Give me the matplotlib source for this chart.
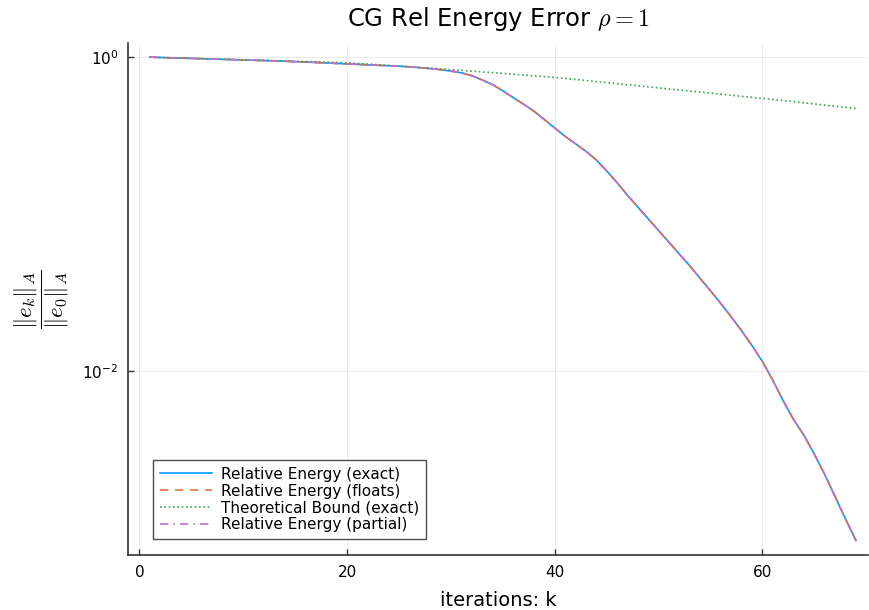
import matplotlib
matplotlib.use("Agg")
import matplotlib.pyplot as plt
import numpy as np

plt.rcParams['font.family'] = ['DejaVu Sans']
plt.rcParams['mathtext.fontset'] = 'cm'

iterations = list(range(1, 70))

rel_energy_exact = [
    1.000, 0.9954, 0.9908, 0.9863, 0.9817, 0.9772, 0.9727, 0.9683, 0.9638, 0.9594,
    0.9550, 0.9506, 0.9462, 0.9419, 0.9354, 0.9311, 0.9247, 0.9183, 0.9120, 0.9057,
    0.8995, 0.8933, 0.8872, 0.8810, 0.8750, 0.8670, 0.8570, 0.8453, 0.8318, 0.8147,
    0.7943, 0.7621, 0.7161, 0.6683, 0.6095, 0.5521, 0.5012, 0.4519, 0.3999, 0.3532,
    0.3126, 0.2805, 0.2512, 0.2213, 0.1884, 0.1585, 0.1318, 0.1109, 0.0933, 0.0785,
    0.0661, 0.0556, 0.0468, 0.0389, 0.0324, 0.0269, 0.0221, 0.0180, 0.0145, 0.0115,
    0.00871, 0.00646, 0.00490, 0.00389, 0.00295, 0.00219, 0.00158, 0.00114, 0.000832,
]
rel_energy_floats = list(rel_energy_exact)
rel_energy_partial = list(rel_energy_exact)

theoretical_bound = [
    0.9977, 0.9931, 0.9886, 0.9863, 0.9817, 0.9772, 0.9727, 0.9705, 0.9661, 0.9616,
    0.9572, 0.9550, 0.9506, 0.9462, 0.9419, 0.9376, 0.9333, 0.9290, 0.9247, 0.9204,
    0.9120, 0.9036, 0.8954, 0.8872, 0.8770, 0.8690, 0.8590, 0.8511, 0.8414, 0.8318,
    0.8241, 0.8147, 0.8054, 0.7962, 0.7870, 0.7780, 0.7691, 0.7603, 0.7516, 0.7430,
    0.7311, 0.7211, 0.7096, 0.6982, 0.6887, 0.6776, 0.6668, 0.6577, 0.6471, 0.6368,
    0.6266, 0.6180, 0.6081, 0.5984, 0.5902, 0.5808, 0.5715, 0.5623, 0.5546, 0.5458,
    0.5370, 0.5284, 0.5200, 0.5117, 0.5035, 0.4943, 0.4864, 0.4786, 0.4710,
]

labels = ["Relative Energy (exact)", "Relative Energy (floats)",
          "Theoretical Bound (exact)", "Relative Energy (partial)"]
x_ticks = [0, 20, 40, 60]
y_ticks = [1.0, 0.01]
y_tick_labels = [r"$\mathregular{10^{0}}$", r"$\mathregular{10^{-2}}$"]

fig = plt.figure(figsize=(8.69, 6.10), dpi=100)
ax = fig.add_axes([0.1473, 0.0902, 0.852, 0.8393])

ax.plot(iterations, rel_energy_exact, color='#009AFA', lw=1.2, ls='-', label=labels[0])
ax.plot(iterations, rel_energy_floats, color='#E36F47', lw=1.2, ls=(0, (5, 4)), label=labels[1])
ax.plot(iterations, theoretical_bound, color='#3EA44E', lw=1.2, ls=(0, (1, 1.6)), label=labels[2])
ax.plot(iterations, rel_energy_partial, color='#C271D2', lw=1.2, ls=(0, (5, 3, 1, 3)), label=labels[3])

ax.set_yscale('log')
ax.set_xlim(-1.1, 70.2)
ax.set_ylim(10 ** -3.172, 10 ** 0.09)
ax.set_xticks(x_ticks)
ax.set_xticklabels([str(t) for t in x_ticks])
ax.set_yticks(y_ticks)
ax.set_yticklabels(y_tick_labels)
ax.yaxis.set_minor_locator(matplotlib.ticker.NullLocator())

for s in ['top', 'right']:
    ax.spines[s].set_visible(False)
for s in ['left', 'bottom']:
    ax.spines[s].set_color('#333333')
    ax.spines[s].set_linewidth(1.2)

ax.tick_params(axis='both', direction='in', length=4, width=1, colors='#333333',
               labelsize=11, labelcolor='black', pad=7)
ax.grid(True, color='black', alpha=0.08, lw=0.7)

ax.set_title(r"CG Rel Energy Error $\rho = 1$", fontsize=17.5, pad=12)
ax.set_xlabel("iterations: k", fontsize=14, labelpad=8)
ax.set_ylabel(r"$\dfrac{\Vert e_k\Vert_A}{\Vert e_0\Vert_A}$", fontsize=16.5, labelpad=8)

leg = ax.legend(loc='lower left', bbox_to_anchor=(0.034, 0.031), borderaxespad=0,
                fontsize=11, frameon=True, fancybox=False, handlelength=3.4,
                labelspacing=0.12, borderpad=0.45, handletextpad=0.6)
leg.get_frame().set_edgecolor('#222222')
leg.get_frame().set_linewidth(1.0)

fig.savefig("out.png", dpi=100)
